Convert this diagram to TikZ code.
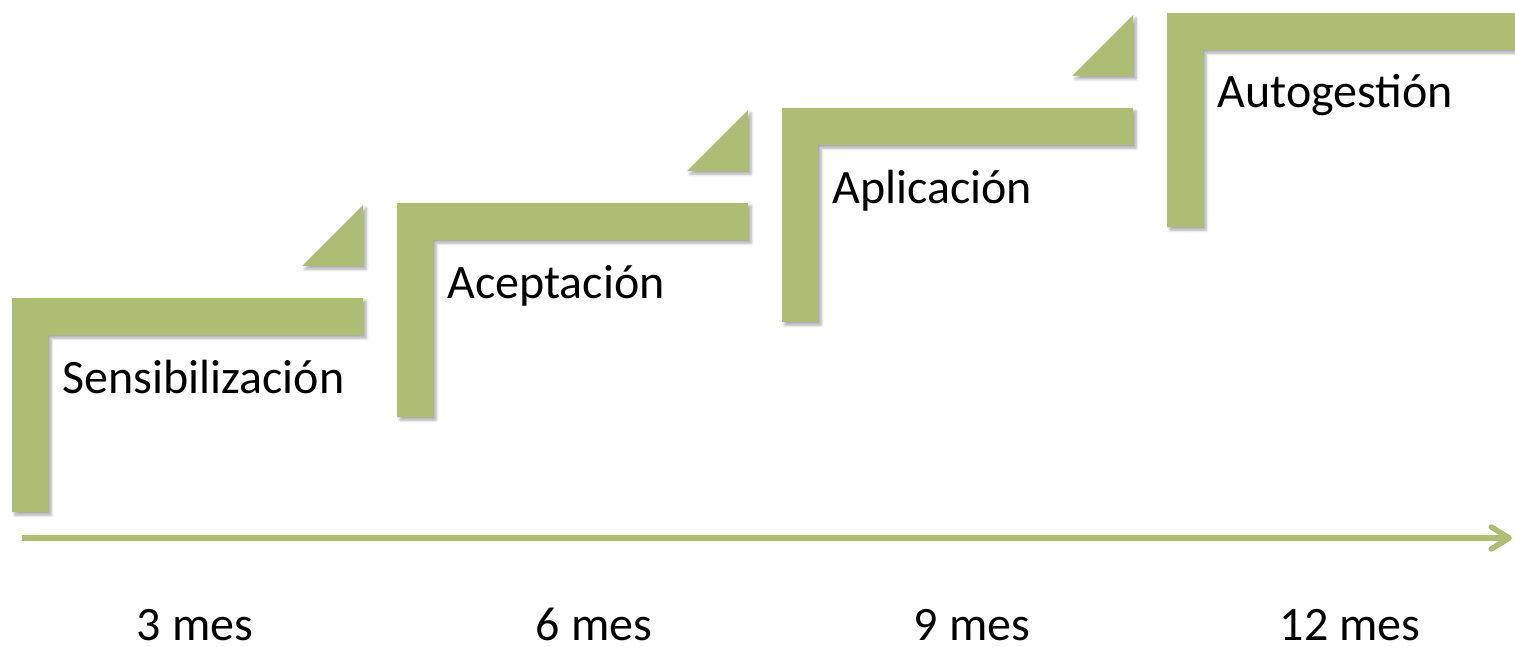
\documentclass[tikz,border=0pt]{standalone}
\usepackage{fontspec}
\setmainfont{Carlito}
\usetikzlibrary{arrows.meta,shadows.blur}
\definecolor{stepgreen}{HTML}{ADBD74}
\tikzset{%
  stepbar/.style={fill=stepgreen,draw=none,blur shadow={shadow xshift=1.5pt,shadow yshift=-1.5pt,shadow blur radius=1.5pt,shadow opacity=35}},
  steplabel/.style={anchor=base west,inner sep=0pt,font=\fontsize{24}{28}\selectfont},
  monthlabel/.style={anchor=base,inner sep=0pt,text depth=0pt,font=\fontsize{24}{28}\selectfont},
  timeline/.style={draw=stepgreen,line width=2.75pt,-{Straight Barb[round,length=9pt,width=11pt]}}
}
\begin{document}
\begin{tikzpicture}[x=0.5pt,y=-0.5pt]
  \useasboundingbox (0,0) rectangle (1515,647);
  % steps
  \foreach \name/\i/\txt in {sens/0/Sensibilización,acep/1/Aceptación,apli/2/Aplicación,auto/3/Autogestión}{
    \begin{scope}[shift={(385*\i,-95*\i)}]
      \fill[stepbar] (12,298) -- (363,298) -- (363,335) -- (48,335) -- (48,512) -- (12,512) -- cycle;
      \ifnum\i<3
        \fill[stepbar] (302,266) -- (363,266) -- (363,205) -- cycle;
      \fi
      \node[steplabel] (\name) at (62,393) {\txt};
    \end{scope}
  }
  % time axis
  \coordinate (t0) at (22,538);
  \coordinate (t1) at (1512,538);
  \draw[timeline] (t0) -- (t1);
  \node[monthlabel] (m3)  at (195,640)  {3 mes};
  \node[monthlabel] (m6)  at (594,640)  {6 mes};
  \node[monthlabel] (m9)  at (972,640)  {9 mes};
  \node[monthlabel] (m12) at (1350,640) {12 mes};
\end{tikzpicture}
\end{document}
